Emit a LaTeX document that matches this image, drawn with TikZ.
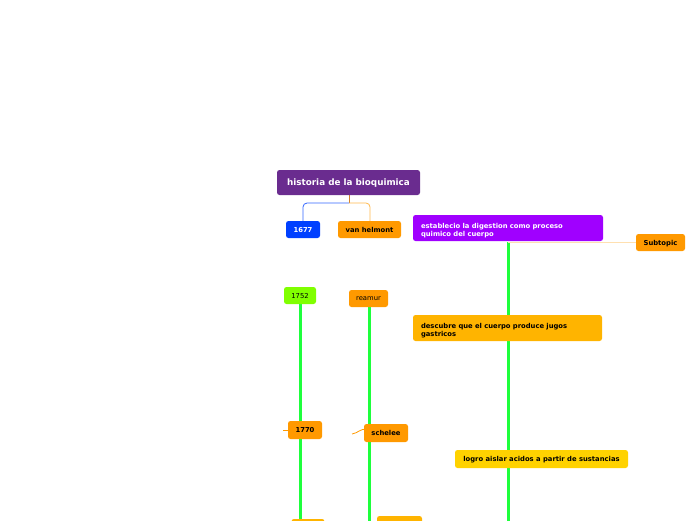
\documentclass[tikz,border=0pt]{standalone}
\usepackage{fontspec}
\setmainfont{DejaVu Sans}
\usetikzlibrary{calc}
\definecolor{rootpurple}{RGB}{106,44,143}
\definecolor{mapblue}{RGB}{0,64,255}
\definecolor{maporange}{RGB}{255,153,0}
\definecolor{mapviolet}{RGB}{160,0,255}
\definecolor{mapamber}{RGB}{255,180,0}
\definecolor{mapgold}{RGB}{255,210,0}
\definecolor{maplime}{RGB}{128,255,0}
\definecolor{mapgreen}{RGB}{30,255,60}
\definecolor{paleorange}{RGB}{255,224,176}
\tikzstyle{topic}=[shape=rectangle, rounded corners=2.5pt, inner sep=0, text depth=0pt, font=\bfseries\fontsize{6.8}{8}\selectfont]
\tikzstyle{twoline}=[align=left, text depth=5pt, minimum height=26pt]
\tikzstyle{wire}=[line width=0.8pt]
\tikzstyle{stem}=[line width=3pt, mapgreen]

\begin{document}
\begin{tikzpicture}[x=1pt,y=-1pt]
\useasboundingbox (0,0) rectangle (696,520);
\clip (0,0) rectangle (696,520);
% connectors
\coordinate (rj) at (349,203);
\coordinate (e0) at (508,242);
\coordinate (e1) at (508,525);
\coordinate (g1) at (300,525);
\coordinate (g2) at (369,525);
\coordinate (t1770) at (283,430);
\coordinate (tsch) at (352,434);
\draw[stem] (e0)--(e1);
\draw[stem] (300,300)--(g1);
\draw[stem] (369,303)--(g2);
\draw[wire, paleorange] (e0)--(640,242);
\draw[wire, brown!70!orange] (349,194)--(rj);
\draw[wire, mapblue!80, rounded corners=4pt] (rj)-|(303,224);
\draw[wire, maporange!70, rounded corners=4pt] (rj)-|(370,224);
\draw[wire, maporange] (t1770)--(290,430);
\draw[wire, maporange] (tsch) .. controls (358,433) and (360,429) .. (366,429);
% nodes
\node at (348.5,182.5)[topic, fill=rootpurple, text=white, minimum width=143pt, minimum height=25pt, font=\bfseries\fontsize{8.8}{10}\selectfont](root){historia de la bioquimica};
\node at (303,229.5)[topic, fill=mapblue, text=white, minimum width=34pt, minimum height=17pt](n1677){1677};
\node at (369.5,229.5)[topic, fill=maporange, minimum width=63pt, minimum height=17pt](helmont){van helmont};
\node at (508,228)[topic, twoline, fill=mapviolet, text=white, minimum width=190pt, text width=174pt](est){establecio la digestion como proceso\\quimico del cuerpo};
\node at (660.5,242.5)[topic, fill=maporange, minimum width=49pt, minimum height=17pt](sub){Subtopic};
\node at (300,295.5)[topic, fill=maplime, minimum width=32pt, minimum height=17pt, font=\fontsize{6.8}{8}\selectfont](n1752){1752};
\node at (368.5,298.5)[topic, fill=maporange, minimum width=39pt, minimum height=17pt, font=\fontsize{6.8}{8}\selectfont](reamur){reamur};
\node at (507.5,328)[topic, twoline, fill=mapamber, minimum width=189pt, text width=173pt](desc){descubre que el cuerpo produce jugos\\gastricos};
\node at (305,430)[topic, fill=maporange, minimum width=34pt, minimum height=18pt](n1770){1770};
\node at (386,433)[topic, fill=maporange, minimum width=44pt, minimum height=18pt](schelee){schelee};
\node at (541.5,459)[topic, fill=mapgold, minimum width=173pt, minimum height=18pt](logro){logro aislar acidos a partir de sustancias};
\node at (308,528)[topic, fill=mapamber, minimum width=33pt, minimum height=18pt](low1){};
\node at (399.5,525)[topic, fill=mapamber, minimum width=45pt, minimum height=18pt](low2){};
\end{tikzpicture}
\end{document}
